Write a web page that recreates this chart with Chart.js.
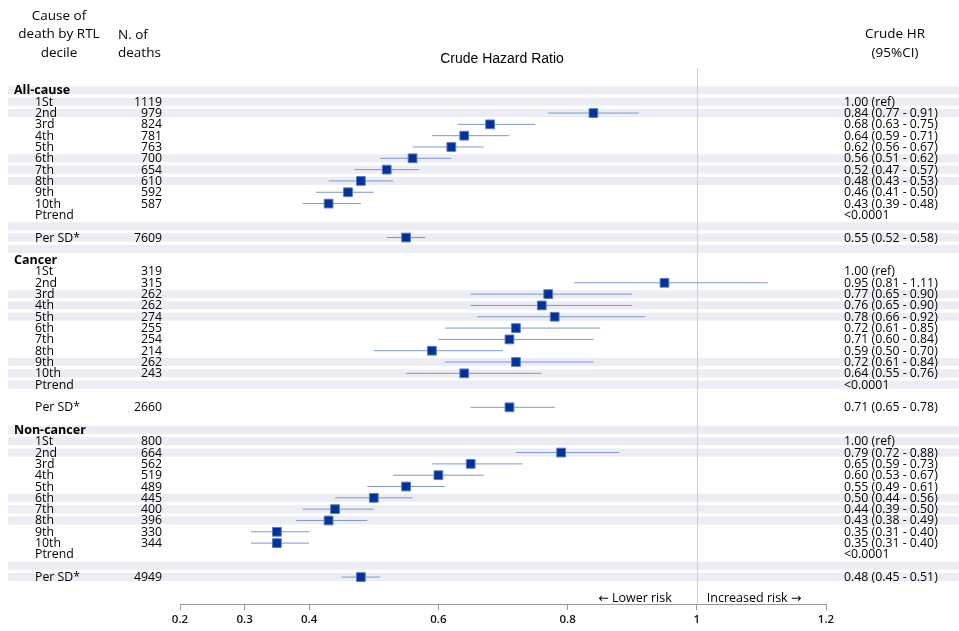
<!DOCTYPE html>
<html>
<head>
<meta charset="utf-8">
<script src="https://cdn.jsdelivr.net/npm/chart.js@4.4.1/dist/chart.umd.min.js"></script>
<style>
  html, body { margin: 0; padding: 0; background: #ffffff; }
  #wrap { width: 959px; height: 631px; position: relative; }
</style>
</head>
<body>
<div id="wrap"><canvas id="c" width="959" height="631"></canvas></div>
<script>
// ---- data ----
const groupNames = ['All-cause', 'Cancer', 'Non-cancer'];
const decileLabels = ['1St', '2nd', '3rd', '4th', '5th', '6th', '7th', '8th', '9th', '10th'];

const deathsAllCause = [1119, 979, 824, 781, 763, 700, 654, 610, 592, 587];
const deathsCancer   = [319, 315, 262, 262, 274, 255, 254, 214, 262, 243];
const deathsNonCancer = [800, 664, 562, 519, 489, 445, 400, 396, 330, 344];

// 1st decile is the reference category (HR = 1.00)
const hrAllCause = [1.00, 0.84, 0.68, 0.64, 0.62, 0.56, 0.52, 0.48, 0.46, 0.43];
const loAllCause = [null, 0.77, 0.63, 0.59, 0.56, 0.51, 0.47, 0.43, 0.41, 0.39];
const hiAllCause = [null, 0.91, 0.75, 0.71, 0.67, 0.62, 0.57, 0.53, 0.50, 0.48];

const hrCancer = [1.00, 0.95, 0.77, 0.76, 0.78, 0.72, 0.71, 0.59, 0.72, 0.64];
const loCancer = [null, 0.81, 0.65, 0.65, 0.66, 0.61, 0.60, 0.50, 0.61, 0.55];
const hiCancer = [null, 1.11, 0.90, 0.90, 0.92, 0.85, 0.84, 0.70, 0.84, 0.76];

const hrNonCancer = [1.00, 0.79, 0.65, 0.60, 0.55, 0.50, 0.44, 0.43, 0.35, 0.35];
const loNonCancer = [null, 0.72, 0.59, 0.53, 0.49, 0.44, 0.39, 0.38, 0.31, 0.31];
const hiNonCancer = [null, 0.88, 0.73, 0.67, 0.61, 0.56, 0.50, 0.49, 0.40, 0.40];

const ptrendText = ['<0.0001', '<0.0001', '<0.0001'];

const perSdDeaths = [7609, 2660, 4949];
const perSdHr = [0.55, 0.71, 0.48];
const perSdLo = [0.52, 0.65, 0.45];
const perSdHi = [0.58, 0.78, 0.51];

const xTickValues = [0.2, 0.3, 0.4, 0.6, 0.8, 1, 1.2];

// ---- build table rows ----
const groupDeaths = [deathsAllCause, deathsCancer, deathsNonCancer];
const groupHr = [hrAllCause, hrCancer, hrNonCancer];
const groupLo = [loAllCause, loCancer, loNonCancer];
const groupHi = [hiAllCause, hiCancer, hiNonCancer];

const fmt = v => v.toFixed(2);
const rows = [];
groupNames.forEach((name, g) => {
  rows.push({ kind: 'header', label: name });
  decileLabels.forEach((d, i) => {
    const hr = groupHr[g][i], lo = groupLo[g][i], hi = groupHi[g][i];
    const isRef = lo === null;
    rows.push({
      kind: 'decile', label: d, deaths: groupDeaths[g][i],
      hr: isRef ? null : hr, lo, hi,
      text: isRef ? fmt(hr) + ' (ref)' : fmt(hr) + ' (' + fmt(lo) + ' - ' + fmt(hi) + ')'
    });
  });
  rows.push({ kind: 'ptrend', label: 'Ptrend', text: ptrendText[g] });
  rows.push({ kind: 'blank' });
  rows.push({
    kind: 'sd', label: 'Per SD*', deaths: perSdDeaths[g],
    hr: perSdHr[g], lo: perSdLo[g], hi: perSdHi[g],
    text: fmt(perSdHr[g]) + ' (' + fmt(perSdLo[g]) + ' - ' + fmt(perSdHi[g]) + ')'
  });
  if (g < groupNames.length - 1) rows.push({ kind: 'blank' });
});

// confidence-interval segments (null point breaks the line between rows)
const ciPoints = [];
const hrPoints = [];
rows.forEach((r, i) => {
  if (r.hr != null) {
    ciPoints.push({ x: r.lo, y: i }, { x: r.hi, y: i }, { x: r.hi, y: null });
    hrPoints.push({ x: r.hr, y: i });
  }
});

const FONT = '"Open Sans", "DejaVu Sans", sans-serif';

// striped background, three rows per stripe group
const bandPlugin = {
  id: 'bands',
  beforeDraw(chart) {
    const ctx = chart.ctx, ys = chart.scales.y;
    ctx.save();
    ctx.fillStyle = '#ececf3';
    rows.forEach((r, i) => {
      if (Math.floor(i / 3) % 2 === 0) {
        const y = ys.getPixelForValue(i);
        ctx.fillRect(8, y - 4, chart.width - 8, 8);
      }
    });
    // reference line at HR = 1
    const xs = chart.scales.x;
    const x1 = Math.round(xs.getPixelForValue(1)) + 0.5;
    ctx.strokeStyle = '#cfcfcf';
    ctx.lineWidth = 1;
    ctx.beginPath();
    ctx.moveTo(x1, chart.chartArea.top);
    ctx.lineTo(x1, chart.chartArea.bottom);
    ctx.stroke();
    ctx.restore();
  }
};

// table text around the plot
const textPlugin = {
  id: 'tableText',
  afterDraw(chart) {
    const ctx = chart.ctx, ys = chart.scales.y, xs = chart.scales.x;
    ctx.save();
    ctx.fillStyle = '#000';
    ctx.textBaseline = 'middle';

    // column headers
    ctx.font = '13.5px ' + FONT;
    ctx.textAlign = 'center';
    ['Cause of', 'death by RTL', 'decile'].forEach((t, k) => ctx.fillText(t, 59, 16 + k * 18.5));
    ctx.textAlign = 'left';
    ['N. of', 'deaths'].forEach((t, k) => ctx.fillText(t, 118, 35 + k * 18));
    ctx.textAlign = 'center';
    ['Crude HR', '(95%CI)'].forEach((t, k) => ctx.fillText(t, 895, 34 + k * 19));
    ctx.font = '14px "Liberation Sans", Arial, sans-serif';
    ctx.fillText('Crude Hazard Ratio', 502, 59);

    // rows
    rows.forEach((r, i) => {
      const y = ys.getPixelForValue(i) + 0.5;
      if (r.kind === 'header') {
        ctx.font = 'bold 12.5px ' + FONT;
        ctx.textAlign = 'left';
        ctx.fillText(r.label, 14, y);
        return;
      }
      if (r.kind === 'blank') return;
      ctx.font = '12.3px ' + FONT;
      ctx.textAlign = 'left';
      ctx.fillText(r.label, 35, y);
      if (r.deaths != null) {
        ctx.textAlign = 'right';
        ctx.fillText(String(r.deaths), 162, y);
      }
      if (r.text) {
        ctx.textAlign = 'left';
        ctx.fillText(r.text, 844, y);
      }
    });

    // direction labels
    const x1 = xs.getPixelForValue(1);
    ctx.font = '12.5px ' + FONT;
    ctx.textAlign = 'right';
    ctx.fillText('\u2190 Lower risk', x1 - 25, 598);
    ctx.textAlign = 'left';
    ctx.fillText('Increased risk \u2192', x1 + 10, 598);
    ctx.restore();
  }
};

new Chart(document.getElementById('c'), {
  data: {
    datasets: [
      {
        type: 'line',
        data: ciPoints,
        borderColor: '#7f97cf',
        borderWidth: 1,
        pointRadius: 0,
        spanGaps: false,
        order: 2
      },
      {
        type: 'scatter',
        data: hrPoints,
        pointStyle: 'rect',
        pointRadius: 6.2,
        pointHoverRadius: 6.2,
        backgroundColor: '#003399',
        borderColor: '#5f7cc2',
        borderWidth: 1,
        order: 1
      }
    ]
  },
  options: {
    responsive: false,
    animation: false,
    devicePixelRatio: 1,
    layout: { padding: { left: 180, right: 133, top: 68, bottom: 0 } },
    plugins: { legend: { display: false }, tooltip: { enabled: false } },
    scales: {
      x: {
        type: 'linear',
        position: 'bottom',
        min: 0.2,
        max: 1.2,
        afterBuildTicks: s => { s.ticks = xTickValues.map(v => ({ value: v })); },
        afterFit: s => { s.height = 27; },
        grid: { drawOnChartArea: false, drawTicks: true, tickLength: 6, color: '#9a9a9a' },
        border: { display: true, color: '#9a9a9a' },
        ticks: {
          autoSkip: false,
          maxRotation: 0,
          padding: 3,
          color: '#111',
          font: { family: FONT, size: 11.5, weight: '600' },
          callback: v => String(v)
        }
      },
      y: {
        type: 'linear',
        display: false,
        reverse: true,
        min: -1.98,
        max: 45.38
      }
    }
  },
  plugins: [bandPlugin, textPlugin]
});
</script>
</body>
</html>
